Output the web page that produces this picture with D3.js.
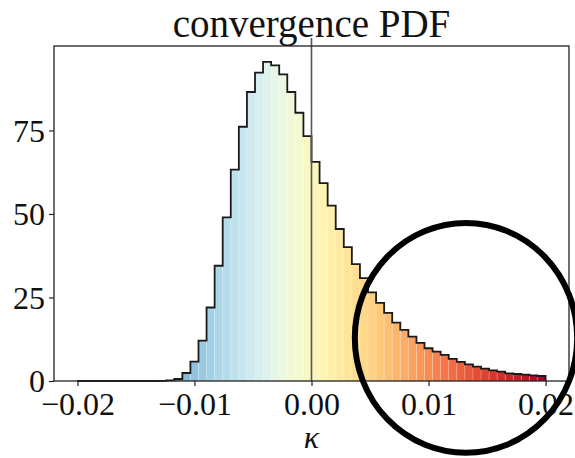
<!DOCTYPE html>
<html>
<head>
<meta charset="utf-8">
<script src="https://cdn.jsdelivr.net/npm/d3@7"></script>
<style>
  body { margin: 0; background: #fff; }
</style>
</head>
<body>
<div id="chart"></div>
<script>
const width = 575;
const height = 458;
const margin = { top: 46, right: 5, bottom: 77, left: 54 };
const fontFamily = "'Liberation Serif', 'DejaVu Serif', serif";

// histogram of kappa, 58 equal bins over binRange
const binRange = [-0.02, 0.02];
const counts = [
  0, 0, 0, 0, 0, 0, 0, 0, 0, 0,
  0.05, 0.2, 0.6, 2.4, 5.8, 12.1, 22.0, 34.5, 49.0, 63.3,
  76.1, 86.5, 92.3, 95.5, 94.5, 91.8, 86.5, 80.3, 73.3,
  65.6, 59.2, 52.5, 45.5, 40.1, 35.0, 30.8, 26.5, 23.4, 20.4,
  17.5, 15.3, 13.3, 11.4, 9.8, 8.8, 7.8, 6.6, 5.7, 5.0,
  4.3, 3.7, 3.2, 2.8, 2.3, 2.1, 1.9, 1.7, 1.5
];
const xTicks = [-0.02, -0.01, 0, 0.01, 0.02];
const yTicks = [0, 25, 50, 75];
const markerKappa = 0;
// hand-drawn circle around the positive tail (centre and half-sizes in data units)
const highlight = { kappa: 0.0132, count: 12.9, halfKappa: 0.0095, halfCount: 34.4 };

const binWidth = (binRange[1] - binRange[0]) / counts.length;
const bins = counts.map((c, i) => ({
  x0: binRange[0] + i * binWidth,
  x1: binRange[0] + (i + 1) * binWidth,
  count: c
}));

const pad = (binRange[1] - binRange[0]) * 0.05;
const x = d3.scaleLinear()
  .domain([binRange[0] - pad, binRange[1] + pad])
  .range([margin.left, width - margin.right - 1]);
const y = d3.scaleLinear()
  .domain([0, d3.max(counts) * 1.05])
  .range([height - margin.bottom, margin.top]);

const color = t => d3.interpolateRdYlBu(1 - t);
const norm = d3.scaleLinear().domain(binRange).range([0, 1]);

const svg = d3.select("#chart").append("svg")
  .attr("width", width)
  .attr("height", height)
  .attr("font-family", fontFamily);

// coloured bars
const bars = svg.append("g");
bars.selectAll("rect")
  .data(bins.filter(d => d.count > 0))
  .join("rect")
  .attr("x", d => x(d.x0))
  .attr("y", d => y(d.count))
  .attr("width", d => x(d.x1) - x(d.x0))
  .attr("height", d => y(0) - y(d.count))
  .attr("fill", d => color(norm((d.x0 + d.x1) / 2)));

// faint seams between bars
bars.selectAll("line")
  .data(bins.filter(d => d.count > 0))
  .join("line")
  .attr("x1", d => x(d.x0)).attr("x2", d => x(d.x0))
  .attr("y1", d => y(d.count)).attr("y2", y(0))
  .attr("stroke", "#fff")
  .attr("stroke-opacity", 0.35)
  .attr("stroke-width", 0.7);

// step outline
const pts = [[bins[0].x0, 0]];
bins.forEach(d => { pts.push([d.x0, d.count], [d.x1, d.count]); });
pts.push([bins[bins.length - 1].x1, 0]);
svg.append("path")
  .attr("d", d3.line().x(d => x(d[0])).y(d => y(d[1]))(pts))
  .attr("fill", "none")
  .attr("stroke", "#1a1a1a")
  .attr("stroke-width", 1.8)
  .attr("stroke-linejoin", "miter");

// kappa = 0 marker
svg.append("line")
  .attr("x1", x(markerKappa)).attr("x2", x(markerKappa))
  .attr("y1", y(0)).attr("y2", margin.top - 8)
  .attr("stroke", "#555")
  .attr("stroke-width", 1.6);

// axes
const xAxis = svg.append("g")
  .attr("transform", `translate(0,${y(0)})`)
  .call(d3.axisBottom(x).tickValues(xTicks).tickSize(5).tickPadding(6)
    .tickFormat(d => (d < 0 ? "\u2212" : "") + Math.abs(d).toFixed(2)));
const yAxis = svg.append("g")
  .attr("transform", `translate(${margin.left},0)`)
  .call(d3.axisLeft(y).tickValues(yTicks).tickSize(5).tickPadding(4)
    .tickFormat(d3.format("d")));

[xAxis, yAxis].forEach(g => {
  g.select(".domain").remove();
  g.selectAll(".tick line").attr("stroke", "#222").attr("stroke-width", 1.2);
  g.selectAll(".tick text")
    .attr("font-family", fontFamily)
    .attr("font-size", 32)
    .attr("fill", "#111");
});
yAxis.selectAll(".tick text").attr("dy", "0.34em");

// frame
svg.append("rect")
  .attr("x", x.range()[0])
  .attr("y", margin.top)
  .attr("width", x.range()[1] - x.range()[0])
  .attr("height", y(0) - margin.top)
  .attr("fill", "none")
  .attr("stroke", "#222")
  .attr("stroke-width", 1.3);

// title and axis label
svg.append("text")
  .attr("x", (x.range()[0] + x.range()[1]) / 2)
  .attr("y", 37)
  .attr("text-anchor", "middle")
  .attr("font-size", 39)
  .attr("fill", "#111")
  .text("convergence PDF");

svg.append("text")
  .attr("x", x(0))
  .attr("y", 448)
  .attr("text-anchor", "middle")
  .attr("font-size", 32)
  .attr("font-style", "italic")
  .attr("fill", "#111")
  .text("κ");

// circle annotation
svg.append("ellipse")
  .attr("cx", x(highlight.kappa))
  .attr("cy", y(highlight.count))
  .attr("rx", x(highlight.halfKappa) - x(0))
  .attr("ry", y(0) - y(highlight.halfCount))
  .attr("fill", "none")
  .attr("stroke", "#000")
  .attr("stroke-width", 6);
</script>
</body>
</html>
